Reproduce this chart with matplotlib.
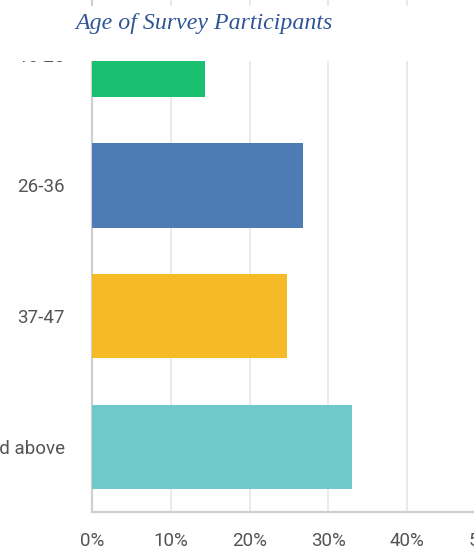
import matplotlib
matplotlib.use("Agg")
import matplotlib.pyplot as plt
from matplotlib.patches import Rectangle

# age groups and share of participants (%)
age_groups = ["15-25", "26-36", "37-47", "48 and above"]
shares = [14.3, 26.8, 24.7, 33.0]
bar_colors = ["#1bbf72", "#4f7bb4", "#f6ba26", "#6fc8ca"]
x_ticks = [0, 10, 20, 30, 40, 50]
x_tick_labels = ["0%", "10%", "20%", "30%", "40%", "50%"]

W, H = 474, 548
fig = plt.figure(figsize=(W / 100, H / 100), dpi=100)

# axes run past the figure edges (the reference is a cropped screenshot)
left, right = 92 / W, 486 / W
bottom, top = 1 - 512 / H, 1 + 10.5 / H
ax = fig.add_axes([left, bottom, right - left, top - bottom])

ax.barh(range(len(age_groups)), shares, height=0.645, color=bar_colors, zorder=3)
ax.set_ylim(len(age_groups) - 0.5, -0.5)
ax.set_xlim(0, 50)
ax.set_yticks(range(len(age_groups)))
ax.set_yticklabels(age_groups)
ax.set_xticks(x_ticks)
ax.set_xticklabels(x_tick_labels)

ax.grid(axis="x", color="#e8e8e8", linewidth=1.3, zorder=0)
for s in ["top", "right"]:
    ax.spines[s].set_visible(False)
for s in ["left", "bottom"]:
    ax.spines[s].set_color("#cfcfcf")
    ax.spines[s].set_linewidth(1.6)
ax.tick_params(axis="both", length=0, labelcolor="#545454", labelsize=13.5)
ax.tick_params(axis="y", pad=19.5)
ax.tick_params(axis="x", pad=14.5)
for lab in ax.get_xticklabels() + ax.get_yticklabels():
    lab.set_fontfamily("Roboto")

# white band with the pasted-in title
fig.add_artist(Rectangle((0, 1 - 61 / H), 1, 55 / H, transform=fig.transFigure,
                         facecolor="white", edgecolor="none", zorder=10))
fig.text(75 / W, 1 - 29 / H, "Age of Survey Participants", fontsize=17.2,
         fontstyle="italic", fontfamily="Liberation Serif", color="#2f5597",
         ha="left", va="baseline", zorder=11)

fig.savefig("out.png", dpi=100)
